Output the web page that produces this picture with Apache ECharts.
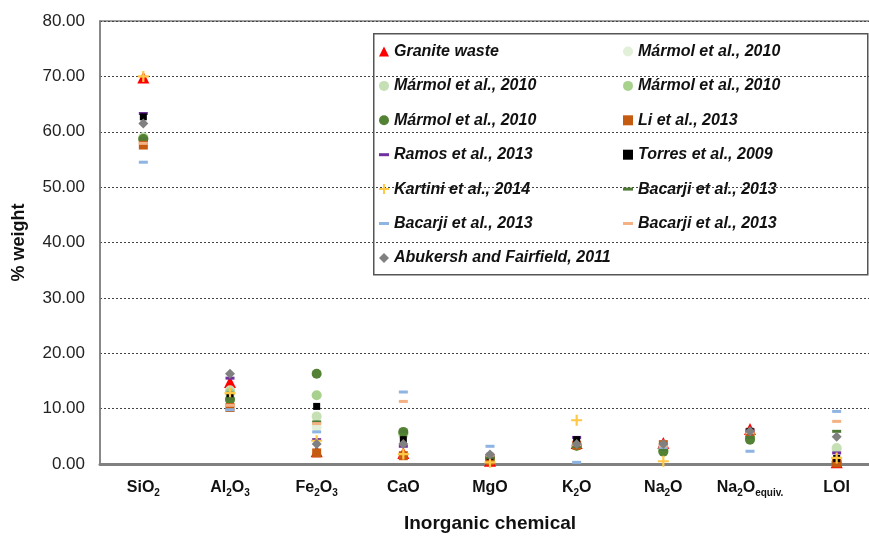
<!DOCTYPE html>
<html><head><meta charset="utf-8">
<script src="https://cdn.jsdelivr.net/npm/echarts@6/dist/echarts.min.js"></script>
<style>html,body{margin:0;padding:0;background:#fff;overflow:hidden}#c{width:880px;height:538px}</style>
</head><body><div id="c"></div>
<script>
// Categories (x axis)
const categories = ['SiO2', 'Al2O3', 'Fe2O3', 'CaO', 'MgO', 'K2O', 'Na2O', 'Na2Oequiv.', 'LOI'];
// Y axis
const yMin = 0, yMax = 80, yStep = 10;

// Series values (order follows categories)
const graniteWaste   = [69.8, 14.8, 2.3, 2.0, 0.6, 3.8, 3.8, 6.3, 0.3];
const marmolA        = [58.5, 13.0, 6.7, 5.5, 1.0, 3.5, 2.6, 4.9, 2.6];
const marmolB        = [59.0, 13.3, 8.6, 5.3, 1.1, 3.4, 2.4, 4.6, 2.9];
const marmolC        = [58.8, 12.8, 12.4, 5.6, 1.2, 3.3, 2.5, 4.7, 0.5];
const marmolD        = [58.7, 11.6, 16.3, 5.8, 1.0, 3.3, 2.2, 4.4, 0.3];
const li2013         = [57.6, 10.2, 2.0, 1.5, 0.6, 3.4, 3.5, 5.7, 0.2];
const ramos2013      = [63.3, 15.5, 4.4, 3.2, 1.5, 4.8, 3.0, 6.1, 2.0];
const torres2009     = [62.7, 12.4, 10.4, 4.4, 1.4, 4.4, 3.2, 5.9, 1.0];
const kartini2014    = [70.0, 12.8, 4.2, 1.8, 0.3, 7.9, 0.5, null, 1.1];
const bacarjiGreen   = [58.7, 11.8, 7.6, 5.9, 1.2, 3.2, 2.6, 4.8, 5.9];
const bacarjiBlue    = [54.5, 9.8, 5.8, 13.0, 3.2, 0.3, 3.0, 2.3, 9.5];
const bacarjiOrange  = [57.9, 10.6, 7.3, 11.3, 1.6, 3.5, 3.3, 5.6, 7.7];
const abukersh2011   = [61.5, 16.3, 3.6, 3.6, 1.7, 3.6, 3.6, 5.9, 4.9];

const ZW = '\u200b';
const PLUS = 'path://M4,0L6,0L6,4L10,4L10,6L6,6L6,10L4,10L4,6L0,6L0,4L4,4Z';
const DASH = 'path://M0,0L10,0L10,3L0,3Z';

const seriesDefs = [
  {name: 'Granite waste', data: graniteWaste, color: '#ff0000', symbol: 'triangle', size: 12},
  {name: 'Mármol et al., 2010', data: marmolA, color: '#e2f0d9', symbol: 'circle', size: 10},
  {name: 'Mármol et al., 2010' + ZW, data: marmolB, color: '#c5e0b4', symbol: 'circle', size: 10},
  {name: 'Mármol et al., 2010' + ZW + ZW, data: marmolC, color: '#a9d18e', symbol: 'circle', size: 10},
  {name: 'Mármol et al., 2010' + ZW + ZW + ZW, data: marmolD, color: '#548235', symbol: 'circle', size: 10},
  {name: 'Li et al., 2013', data: li2013, color: '#c55a11', symbol: 'rect', size: 9},
  {name: 'Ramos et al., 2013', data: ramos2013, color: '#7030a0', symbol: 'rect', size: [9, 3], icon: DASH},
  {name: 'Torres et al., 2009', data: torres2009, color: '#000000', symbol: 'rect', size: 7},
  {name: 'Kartini et al., 2014', data: kartini2014, color: '#ffc845', symbol: PLUS, size: 11},
  {name: 'Bacarji et al., 2013', data: bacarjiGreen, color: '#4e7a36', symbol: 'rect', size: [9, 3], icon: DASH},
  {name: 'Bacarji et al., 2013' + ZW, data: bacarjiBlue, color: '#8db4e2', symbol: 'rect', size: [9, 3], icon: DASH},
  {name: 'Bacarji et al., 2013' + ZW + ZW, data: bacarjiOrange, color: '#f4b183', symbol: 'rect', size: [9, 3], icon: DASH},
  {name: 'Abukersh and Fairfield, 2011', data: abukersh2011, color: '#808080', symbol: 'diamond', size: 10}
];

const leftCol = [0, 2, 4, 6, 8, 10, 12];
const rightCol = [1, 3, 5, 7, 9, 11];

function legendData(idx) {
  return idx.map(i => {
    const d = seriesDefs[i];
    return {name: d.name, icon: d.icon ? d.icon : d.symbol};
  });
}

const FONT = '"Liberation Sans", Arial, Helvetica, sans-serif';
const legendText = {fontFamily: FONT, fontSize: 16, fontWeight: 'bold', fontStyle: 'italic', color: '#111', lineHeight: 18};

function fmtCat(v) {
  if (v.indexOf('equiv.') >= 0) return 'Na{s|2}O{s|equiv.}';
  return v.replace(/(\d)/g, '{s|$1}');
}

const chart = echarts.init(document.getElementById('c'), null, {renderer: 'canvas'});
chart.setOption({
  animation: false,
  backgroundColor: '#fff',
  grid: {left: 100, right: 0, top: 21, bottom: 70, containLabel: false,
         show: true, borderColor: '#808080', borderWidth: 1.5, backgroundColor: 'transparent'},
  xAxis: {
    type: 'category', data: categories, boundaryGap: true,
    name: 'Inorganic chemical', nameLocation: 'middle', nameGap: 50,
    nameTextStyle: {fontFamily: FONT, fontSize: 19, fontWeight: 'bold', color: '#111'},
    axisLine: {lineStyle: {color: '#808080', width: 3}},
    axisTick: {show: false},
    axisLabel: {
      interval: 0, margin: 14, formatter: fmtCat,
      fontFamily: FONT, fontSize: 16, fontWeight: 'bold', color: '#111', lineHeight: 20,
      rich: {s: {fontFamily: FONT, fontSize: 10, fontWeight: 'bold', color: '#111', lineHeight: 10, verticalAlign: 'bottom'}}
    },
    splitLine: {show: false}
  },
  yAxis: {
    type: 'value', min: yMin, max: yMax, interval: yStep,
    name: '% weight', nameLocation: 'middle', nameGap: 72, nameRotate: 90,
    nameTextStyle: {fontFamily: FONT, fontSize: 18, fontWeight: 'bold', color: '#111'},
    axisLine: {show: true, lineStyle: {color: '#808080', width: 1.5}},
    axisTick: {show: false},
    axisLabel: {margin: 15, formatter: v => v.toFixed(2), fontFamily: FONT, fontSize: 17, color: '#222'},
    splitLine: {show: true, lineStyle: {color: '#444', width: 1, type: [2, 2]}}
  },
  legend: [
    {orient: 'vertical', left: 379, top: 42.5, padding: 0, itemGap: 16.4, itemWidth: 10, itemHeight: 10, itemTextGap: 5,
     data: legendData(leftCol), textStyle: legendText, selectedMode: false},
    {orient: 'vertical', left: 623, top: 42.5, padding: 0, itemGap: 16.4, itemWidth: 10, itemHeight: 10, itemTextGap: 5,
     data: legendData(rightCol), textStyle: legendText, selectedMode: false}
  ],
  graphic: [{type: 'rect', left: 373, top: 33, shape: {width: 494, height: 241},
    style: {fill: 'rgba(0,0,0,0)', stroke: '#555', lineWidth: 1.5}, z: 10}],
  series: seriesDefs.map(d => ({
    type: 'scatter', name: d.name, data: d.data, symbol: d.symbol, symbolSize: d.size,
    itemStyle: {color: d.color, opacity: 1}, emphasis: {disabled: true}
  }))
});
</script></body></html>
